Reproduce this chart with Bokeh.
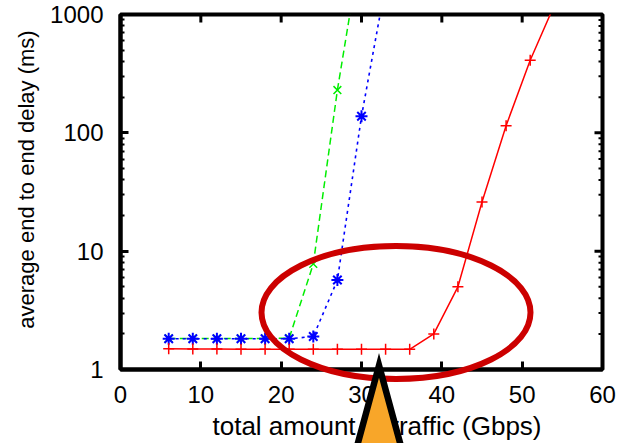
import numpy as np
from bokeh.plotting import figure
from bokeh.models import FixedTicker, NumeralTickFormatter, Range1d
from bokeh.core.properties import value
from bokeh.embed import file_html
from bokeh.resources import INLINE

# ---------------- data ----------------
x_red = [6, 9, 12, 15, 18, 21, 24, 27, 30, 33, 36, 39, 42, 45, 48, 51, 54]
y_red = [1.50, 1.49, 1.49, 1.48, 1.48, 1.48, 1.48, 1.48, 1.48, 1.48, 1.48,
         2.0, 5.0, 26.0, 115.0, 410.0, 1200.0]
x_green = [6, 9, 12, 15, 18, 21, 24, 27, 30]
y_green = [1.83, 1.83, 1.83, 1.83, 1.83, 1.84, 7.8, 230.0, 4000.0]
x_blue = [6, 9, 12, 15, 18, 21, 24, 27, 30, 33]
y_blue = [1.82, 1.82, 1.82, 1.82, 1.82, 1.82, 1.9, 5.7, 138.0, 1800.0]
x_ticks = [0, 10, 20, 30, 40, 50, 60]
y_ticks = [1, 10, 100, 1000]
x_title = "total amount of traffic (Gbps)"
y_title = "average end to end delay (ms)"

# ---------------- layout ----------------
W, H = 632, 443
FL, FR, FT, FB = 120, 602, 14, 369
X0, X1 = 0, 60
FONT = "Liberation Sans"


def px_x(sx):
    return X0 + (np.asarray(sx, dtype=float) - FL) / (FR - FL) * (X1 - X0)


def px_y(sy):
    return 10 ** (3 * (FB - np.asarray(sy, dtype=float)) / (FB - FT))


p = figure(width=W, height=H, x_range=Range1d(X0, X1), y_range=Range1d(1, 1000),
           y_axis_type="log", output_backend="svg", toolbar_location=None,
           min_border_left=FL, min_border_right=W - FR,
           min_border_top=FT, min_border_bottom=H - FB)
p.grid.visible = False
p.background_fill_color = "white"
p.border_fill_color = "white"
p.outline_line_color = "black"
p.outline_line_width = 4

minor_y = [m * 10 ** e for e in range(3) for m in range(2, 10)]


def style_axis(ax):
    ax.axis_line_width = 4
    ax.axis_line_color = "black"
    ax.major_tick_in = 8
    ax.major_tick_out = 0
    ax.minor_tick_in = 4
    ax.minor_tick_out = 0
    ax.major_tick_line_width = 3
    ax.minor_tick_line_width = 2
    ax.major_tick_line_color = "black"
    ax.minor_tick_line_color = "black"
    ax.major_label_text_font = FONT
    ax.major_label_text_font_size = "24px"
    ax.major_label_text_color = "black"


xa = p.xaxis[0]
xa.ticker = FixedTicker(ticks=x_ticks, minor_ticks=[])
style_axis(xa)
xa.major_label_standoff = 16

ya = p.yaxis[0]
ya.ticker = FixedTicker(ticks=y_ticks, minor_ticks=minor_y)
ya.formatter = NumeralTickFormatter(format="0")
style_axis(ya)
ya.major_label_standoff = 17

# mirrored inward ticks on the top and right frame edges
top_y0 = float(px_y(FT))
top_y1 = float(px_y(FT + 8))
p.segment(x0=x_ticks, y0=[top_y0] * len(x_ticks), x1=x_ticks, y1=[top_y1] * len(x_ticks),
          line_color="black", line_width=3)
right_x0 = float(px_x(FR))
p.segment(x0=[right_x0] * len(y_ticks), y0=y_ticks, x1=[float(px_x(FR - 8))] * len(y_ticks),
          y1=y_ticks, line_color="black", line_width=3)
p.segment(x0=[right_x0] * len(minor_y), y0=minor_y, x1=[float(px_x(FR - 4))] * len(minor_y),
          y1=minor_y, line_color="black", line_width=2)

# ---------------- series ----------------
p.line(x_green, y_green, line_color="#00ee00", line_width=1.5, line_dash="7 4")
p.scatter(x_green, y_green, marker="x", size=11, line_color="#00ee00", line_width=1.5)

p.line(x_blue, y_blue, line_color="#0000ff", line_width=1.6, line_dash="3 4")
p.scatter(x_blue, y_blue, marker="asterisk", size=12, line_color="#0000ff", line_width=2)

p.line(x_red, y_red, line_color="#ff0000", line_width=1.5)
p.scatter(x_red, y_red, marker="cross", size=11, line_color="#ff0000", line_width=1.5)

# ---------------- axis titles (overlay level, not clipped to the frame) ----------------
p.text(x=[float(px_x(376.5))], y=[float(px_y(425.5))], text=[x_title],
       text_font=value(FONT), text_font_size="26px", text_color="black",
       text_align="center", text_baseline="middle", level="overlay")
p.text(x=[float(px_x(26))], y=[float(px_y(179))], text=[y_title], angle=np.pi / 2,
       text_font=value(FONT), text_font_size="22px", text_color="black",
       text_align="center", text_baseline="middle", level="overlay")

# ---------------- overlays: ellipse and arrow ----------------
p.ellipse(x=[float(px_x(395.5))], y=[float(px_y(312.0))], width=[269], height=[133],
          width_units="screen", height_units="screen",
          fill_color=None, line_color="#cc0000", line_width=6, level="overlay")

tri_sx = [378.5, 335.0, 422.0]
tri_sy = [365.0, 525.0, 525.0]
p.patch(x=[float(v) for v in px_x(tri_sx)], y=[float(v) for v in px_y(tri_sy)],
        fill_color="#f8a629", line_color="black", line_width=6.5, line_join="miter",
        level="overlay")

open("out.html", "w").write(file_html(p, INLINE))
